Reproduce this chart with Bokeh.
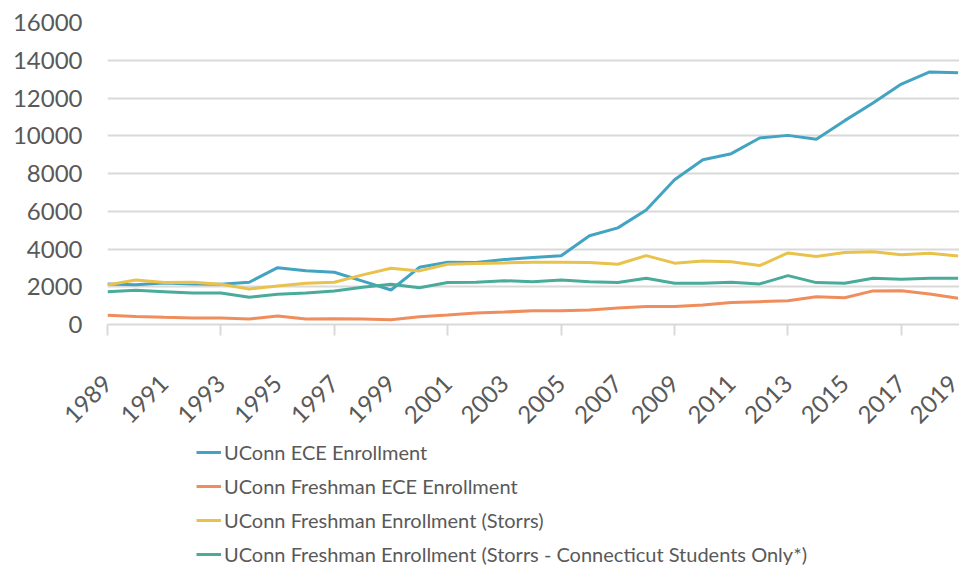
from math import pi
from bokeh.plotting import figure
from bokeh.layouts import column
from bokeh.models import FixedTicker, Legend, LegendItem, Range1d
from bokeh.embed import file_html
from bokeh.resources import INLINE

years = list(range(1989, 2020))
ece_enrollment = [2150, 2100, 2200, 2150, 2130, 2240, 3010, 2850, 2770, 2300, 1830,
                  3030, 3300, 3290, 3440, 3550, 3640, 4700, 5120, 6070, 7670,
                  8730, 9050, 9880, 10020, 9820, 10800, 11730, 12740, 13380, 13340]
freshman_ece = [490, 430, 380, 340, 340, 290, 450, 290, 310, 290, 250,
                410, 500, 610, 660, 730, 730, 770, 880, 960, 960,
                1030, 1160, 1210, 1260, 1470, 1420, 1780, 1790, 1620, 1390]
freshman_storrs = [2100, 2360, 2220, 2240, 2130, 1880, 2040, 2180, 2240, 2630, 2980,
                   2840, 3190, 3230, 3260, 3300, 3300, 3280, 3190, 3650, 3250,
                   3370, 3320, 3120, 3790, 3600, 3810, 3850, 3700, 3780, 3630]
freshman_ct = [1740, 1810, 1740, 1670, 1670, 1440, 1600, 1670, 1780, 1970, 2130,
               1950, 2220, 2240, 2320, 2270, 2360, 2270, 2220, 2450, 2190,
               2190, 2240, 2150, 2590, 2220, 2190, 2450, 2400, 2450, 2450]

series_names = ["UConn ECE Enrollment",
                "UConn Freshman ECE Enrollment",
                "UConn Freshman Enrollment (Storrs)",
                "UConn Freshman Enrollment (Storrs - Connecticut Students Only*)"]
series_values = [ece_enrollment, freshman_ece, freshman_storrs, freshman_ct]
colors = ["#43A3C2", "#F08D5D", "#E9C24B", "#49AB9A"]

y_ticks = list(range(0, 16001, 2000))
x_label_years = list(range(1989, 2020, 2))
x_tick_marks = list(range(1989, 2020, 4))

FONT = "Lato"
TEXT_COLOR = "#595959"
GRID_COLOR = "#D9D9D9"

p = figure(width=959, height=440, output_backend="svg", toolbar_location=None,
           x_range=Range1d(1989, 2019.05), y_range=Range1d(0, 16000),
           min_border_left=107, min_border_right=0, min_border_top=22,
           min_border_bottom=116)
p.outline_line_color = None
p.background_fill_color = "white"
p.border_fill_color = "white"

for vals, c in zip(series_values, colors):
    p.line(years, vals, line_color=c, line_width=3)

# y axis
p.yaxis.ticker = FixedTicker(ticks=y_ticks)
p.yaxis.axis_line_color = None
p.yaxis.major_tick_line_color = None
p.yaxis.minor_tick_line_color = None
p.yaxis.major_label_text_font = FONT
p.yaxis.major_label_text_font_size = "24px"
p.yaxis.major_label_text_color = TEXT_COLOR
p.yaxis.major_label_standoff = 19

# x axis
p.xaxis.ticker = FixedTicker(ticks=x_label_years, minor_ticks=x_tick_marks)
p.xaxis.axis_line_color = GRID_COLOR
p.xaxis.axis_line_width = 2
p.xaxis.major_tick_line_color = None
p.xaxis.minor_tick_line_color = GRID_COLOR
p.xaxis.minor_tick_line_width = 2
p.xaxis.minor_tick_out = 11
p.xaxis.minor_tick_in = 0
p.xaxis.major_label_orientation = pi / 4
p.xaxis.major_label_text_font = FONT
p.xaxis.major_label_text_font_size = "24px"
p.xaxis.major_label_text_color = TEXT_COLOR
p.xaxis.major_label_standoff = 44

p.xgrid.grid_line_color = None
p.ygrid.grid_line_color = GRID_COLOR
p.ygrid.grid_line_width = 2
p.ygrid.ticker = FixedTicker(ticks=y_ticks)

# legend panel (the series are drawn here too, but fall outside its ranges)
p2 = figure(width=959, height=126, output_backend="svg", toolbar_location=None,
            x_range=Range1d(0, 1), y_range=Range1d(0, 1),
            x_axis_location=None, y_axis_location=None,
            min_border=0)
p2.outline_line_color = None
p2.xgrid.grid_line_color = None
p2.ygrid.grid_line_color = None
items = []
for name, vals, c in zip(series_names, series_values, colors):
    r = p2.line(years, vals, line_color=c, line_width=3)
    items.append(LegendItem(label=name, renderers=[r]))

legend = Legend(items=items, orientation="vertical", location=(89, 0),
                label_text_font=FONT, label_text_font_size="20px",
                label_text_color=TEXT_COLOR,
                glyph_width=25, glyph_height=20, label_height=20,
                label_standoff=3, spacing=10, padding=0, margin=0,
                border_line_color=None, background_fill_alpha=0)
p2.add_layout(legend, "center")

layout = column(p, p2, spacing=0)
open("out.html", "w").write(file_html(layout, INLINE))
